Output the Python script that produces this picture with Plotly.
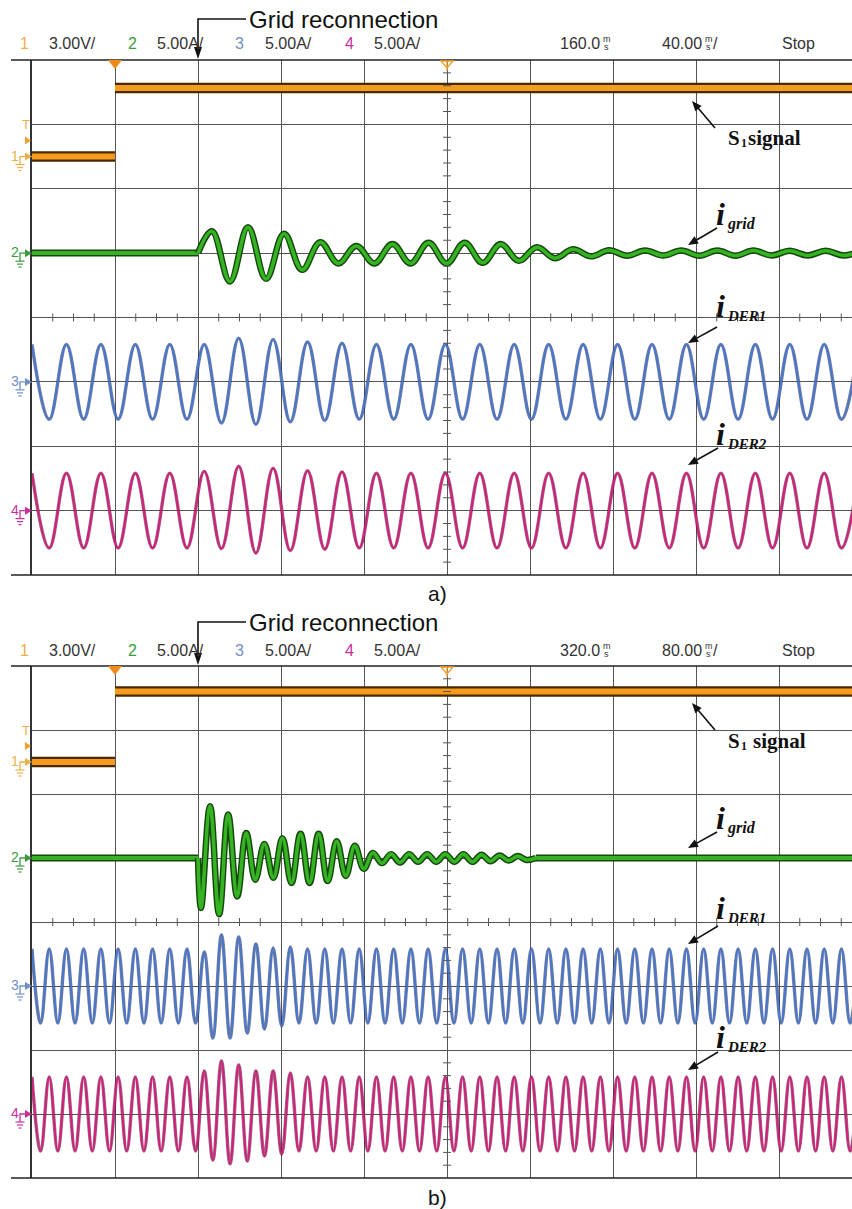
import math
import plotly.graph_objects as go

W, H = 852, 1209

# ---------------- channel settings ----------------
S1_V_PER_DIV = 3.0          # channel 1 (S1 gate signal), V/div
I_A_PER_DIV = 5.0           # channels 2-4 (currents), A/div
OFFSET_S1 = 2.5             # ground marker positions, divisions from centre
OFFSET_GRID = 1.0
OFFSET_DER1 = -1.0
OFFSET_DER2 = -3.0

# ---------------- capture a) : 40 ms/div ----------------
A_MS_PER_DIV = 40.0
A_S1_STEP_MS = 40.0
A_RECONNECT_MS = 80.0
A_S1_LEVELS_V = [0.0, 3.2]                 # before / after the step
A_GRID_FIRST_MS = 86.7                      # first extreme of i_grid
A_GRID_HALF_MS = 8.7                        # half period of i_grid
A_GRID_EXTREMES_A = [1.7, -2.2, 2.0, -2.0, 1.5, -1.3, 0.85, -0.8, 0.55, -0.8,
                     0.7, -0.8, 0.8, -0.8, 0.8, -0.75, 0.7, -0.6, 0.45, -0.4,
                     0.3, -0.25, 0.22, -0.2, 0.2, -0.18, 0.2, -0.2, 0.2,
                     -0.2, 0.2, -0.18, 0.18, -0.18, 0.18, -0.18, 0.18]
A_DER_HALF_MS = 8.3                         # half period of the DER currents
A_DER_BASE_A = 2.9                          # steady peak value
A_DER_DIST_START = 10                       # first half cycle after reconnection
A_DER1_DIST_A = [2.9, -3.2, 3.4, -3.3, 3.3, -3.1, 3.1, -3.0, 3.0]
A_DER2_DIST_A = [3.05, -2.95, 3.45, -3.3, 3.3, -3.1, 3.1, -3.0, 3.0]

# ---------------- capture b) : 80 ms/div ----------------
B_MS_PER_DIV = 80.0
B_S1_STEP_MS = 80.0
B_RECONNECT_MS = 160.0
B_S1_LEVELS_V = [0.0, 3.3]
B_GRID_FIRST_MS = 162.9
B_GRID_HALF_MS = 8.72
B_GRID_EXTREMES_A = [-3.9, 4.05, -4.4, 3.4, -3.0, 1.95, -1.7, 1.1, -1.55, 1.55,
                     -1.95, 1.9, -1.95, 1.9, -1.8, 1.3, -1.4, 0.95, -0.85, 0.4,
                     -0.4, 0.3, -0.35, 0.3, -0.3, 0.3, -0.3, 0.3, -0.3, 0.3,
                     -0.3, 0.25, -0.25, 0.2, -0.2, 0.15, -0.15]
B_DER_HALF_MS = 8.3
B_DER_BASE_A = 2.9
B_DER_DIST_START = 20
B_DER1_DIST_A = [2.66, -4.06, 3.98, -4.06, 3.83, -3.67, 3.28, -3.36, 2.97, -3.13, 3.05]
B_DER2_DIST_A = [3.36, -3.6, 4.14, -3.9, 3.83, -3.67, 3.36, -3.28, 3.36, -3.13, 3.2]

# header read-outs
CH_LABELS = ["1", "2", "3", "4"]
CH_SCALES_TXT = ["3.00V/", "5.00A/", "5.00A/", "5.00A/"]
A_DELAY_TXT, A_TIMEBASE_TXT = "160.0", "40.00"
B_DELAY_TXT, B_TIMEBASE_TXT = "320.0", "80.00"

# ---------------- screen geometry (pixels) ----------------
SCREEN_LEFT = 32
SCREEN_RIGHT = 852
FRAME_LEFT = 11
DIV_PX = 83.0

COL_S1, COL_S1_DARK = "#f59c1e", "#4a2800"
COL_GRID, COL_GRID_DARK = "#35b322", "#14480c"
COL_DER1, COL_DER1_DARK = "#4a76cc", "#1c2c5c"
COL_DER2, COL_DER2_DARK = "#d2207c", "#5a0832"
CH_TXT_COLORS = ["#e8b24a", "#3c9c3c", "#7090c8", "#c8309c"]
GRID_LINE = "#555555"
INK = "#111111"


def xp(x):
    return x / W


def yp(y):
    return 1 - y / H


panels = [
    dict(top=60, bottom=575, ms=A_MS_PER_DIV, step=A_S1_STEP_MS, rec=A_RECONNECT_MS,
         s1=A_S1_LEVELS_V, g_first=A_GRID_FIRST_MS, g_half=A_GRID_HALF_MS,
         g_ext=A_GRID_EXTREMES_A, d_half=A_DER_HALF_MS, d_base=A_DER_BASE_A,
         d_start=A_DER_DIST_START, d1=A_DER1_DIST_A, d2=A_DER2_DIST_A,
         delay=A_DELAY_TXT, tb=A_TIMEBASE_TXT, hdr=43, note=19, s1gap=0,
         lbl=dict(s1=(726, 138), grid=(720, 214), der1=(720, 306), der2=(720, 434)),
         tips=dict(s1=((692, 101), (715, 128)), grid=((688, 245), (717, 228)),
                   der1=((688, 343), (717, 327)), der2=((688, 465), (718, 448)))),
    dict(top=666, bottom=1178, ms=B_MS_PER_DIV, step=B_S1_STEP_MS, rec=B_RECONNECT_MS,
         s1=B_S1_LEVELS_V, g_first=B_GRID_FIRST_MS, g_half=B_GRID_HALF_MS,
         g_ext=B_GRID_EXTREMES_A, d_half=B_DER_HALF_MS, d_base=B_DER_BASE_A,
         d_start=B_DER_DIST_START, d1=B_DER1_DIST_A, d2=B_DER2_DIST_A,
         delay=B_DELAY_TXT, tb=B_TIMEBASE_TXT, hdr=650, note=622, s1gap=5,
         lbl=dict(s1=(726, 741), grid=(720, 818), der1=(720, 908), der2=(720, 1037)),
         tips=dict(s1=((692, 703), (715, 730)), grid=((688, 848), (717, 832)),
                   der1=((688, 944), (718, 926)), der2=((688, 1070), (718, 1052)))),
]

fig = go.Figure()
shapes = []
annos = []


def text(x, y, s, size, color=INK, family="Liberation Sans", xanchor="left"):
    annos.append(dict(x=xp(x), y=yp(y), xref="paper", yref="paper", text=s,
                      showarrow=False, xanchor=xanchor, yanchor="middle",
                      font=dict(family=family, size=size, color=color)))


def band(xs, ys, color, dark, w_core, w_dark, xa, ya, shape, dark_op=1.0):
    fig.add_trace(go.Scatter(x=xs, y=ys, mode="lines", xaxis=xa, yaxis=ya,
                             line=dict(color=dark, width=w_dark, shape=shape, smoothing=1.1),
                             opacity=dark_op, hoverinfo="skip", showlegend=False))
    fig.add_trace(go.Scatter(x=xs, y=ys, mode="lines", xaxis=xa, yaxis=ya,
                             line=dict(color=color, width=w_core, shape=shape, smoothing=1.1),
                             hoverinfo="skip", showlegend=False))


def arrow(tip, tail, color=INK):
    (tx, ty), (sx, sy) = tip, tail
    dx, dy = tx - sx, ty - sy
    ln = math.hypot(dx, dy)
    ux, uy = dx / ln, dy / ln
    hl, hw = 10.0, 4.2
    bx, by = tx - ux * hl, ty - uy * hl
    shapes.append(dict(type="line", xref="paper", yref="paper", x0=xp(sx), y0=yp(sy),
                       x1=xp(bx + ux * 2), y1=yp(by + uy * 2), line=dict(color=color, width=1.6)))
    shapes.append(dict(type="path", xref="paper", yref="paper",
                       path=f"M {xp(tx)},{yp(ty)} L {xp(bx - uy * hw)},{yp(by + ux * hw)} "
                            f"L {xp(bx + uy * hw)},{yp(by - ux * hw)} Z",
                       fillcolor=color, line=dict(width=0)))


for i, p in enumerate(panels):
    xa, ya = ("x", "y") if i == 0 else ("x2", "y2")
    x_end = (SCREEN_RIGHT - SCREEN_LEFT) / DIV_PX * p["ms"]
    div_px = (p["bottom"] - p["top"]) / 8.0

    def tpx(t, p=p):
        return SCREEN_LEFT + t / p["ms"] * DIV_PX

    def dpx(d, p=p, div_px=div_px):
        return p["top"] + (4 - d) * div_px

    # ---- axes ----
    ax = dict(domain=[SCREEN_LEFT / W, 1], range=[0, x_end], dtick=p["ms"], tick0=0,
              showgrid=True, gridcolor=GRID_LINE, gridwidth=1, zeroline=False,
              showticklabels=False, ticks="", showline=False, fixedrange=True)
    ay = dict(domain=[yp(p["bottom"]), yp(p["top"])], range=[-4, 4], dtick=1, tick0=0,
              showgrid=True, gridcolor=GRID_LINE, gridwidth=1, zeroline=False,
              showticklabels=False, ticks="", showline=True, linecolor="#333333",
              linewidth=1.5, fixedrange=True)
    if i == 0:
        fig.update_layout(xaxis=ax, yaxis=dict(ay, anchor="x"))
    else:
        fig.update_layout(xaxis2=dict(ax, anchor="y2"), yaxis2=dict(ay, anchor="x2"))

    # ---- S1 gate signal (no vertical edge shown) ----
    lo = OFFSET_S1 + p["s1"][0] / S1_V_PER_DIV
    hi = OFFSET_S1 + p["s1"][1] / S1_V_PER_DIV
    band([0, p["step"], None, p["step"], x_end], [lo, lo, None, hi, hi],
         COL_S1, COL_S1_DARK, 6, 10.5, xa, ya, "linear")

    # ---- i_grid: flat before reconnection, ringing, flat after ----
    g_t = [p["rec"]] + [p["g_first"] + k * p["g_half"] for k in range(len(p["g_ext"]))]
    g_v = [0.0] + list(p["g_ext"])
    tail_t = g_t[-1] + p["g_half"]
    if tail_t < x_end:
        g_t.append(tail_t)
        g_v.append(0.0)
    g_y = [OFFSET_GRID + v / I_A_PER_DIV for v in g_v]
    band([0, p["rec"]], [OFFSET_GRID, OFFSET_GRID], COL_GRID, COL_GRID_DARK, 4, 7, xa, ya, "linear")
    if tail_t < x_end:
        band([tail_t, x_end], [OFFSET_GRID, OFFSET_GRID], COL_GRID, COL_GRID_DARK, 4, 7, xa, ya, "linear")
    band(g_t, g_y, COL_GRID, COL_GRID_DARK, 3.6, 6.5, xa, ya, "spline")

    # ---- DER currents ----
    n = int(x_end / p["d_half"]) + 2
    for dist, off, col, dark in ((p["d1"], OFFSET_DER1, COL_DER1, COL_DER1_DARK),
                                 (p["d2"], OFFSET_DER2, COL_DER2, COL_DER2_DARK)):
        ts, vs = [], []
        for k in range(n):
            if p["d_start"] <= k < p["d_start"] + len(dist):
                v = dist[k - p["d_start"]]
            else:
                v = p["d_base"] if k % 2 == 0 else -p["d_base"]
            ts.append(k * p["d_half"])
            vs.append(off + v / I_A_PER_DIV)
        band(ts, vs, col, dark, 2.0, 3.4, xa, ya, "spline", dark_op=0.6)

    # ---- minor ticks on the centre cross ----
    t_c = 5 * p["ms"]
    hx = 4.0 / DIV_PX * p["ms"]
    hy = 4.0 / div_px
    k = 1
    while k * p["ms"] / 4 < x_end:
        t = k * p["ms"] / 4
        if k % 4:
            shapes.append(dict(type="line", xref=xa, yref=ya, x0=t, x1=t, y0=-hy, y1=hy,
                               line=dict(color=GRID_LINE, width=1)))
        k += 1
    for k in range(-19, 20):
        if k % 5 == 0:
            continue
        d = k * 0.2
        shapes.append(dict(type="line", xref=xa, yref=ya, x0=t_c - hx, x1=t_c + hx, y0=d, y1=d,
                           line=dict(color=GRID_LINE, width=1)))

    # ---- frame rules (extend left past the graticule) ----
    for yy in (p["top"], p["bottom"]):
        shapes.append(dict(type="line", xref="paper", yref="paper", x0=xp(FRAME_LEFT), x1=1,
                           y0=yp(yy), y1=yp(yy), line=dict(color="#222222", width=1.6)))

    # ---- trigger markers on top rule ----
    xs = tpx(p["step"])
    top = p["top"]
    shapes.append(dict(type="path", xref="paper", yref="paper",
                       path=f"M {xp(xs-7)},{yp(top)} L {xp(xs+7)},{yp(top)} L {xp(xs)},{yp(top+9)} Z",
                       fillcolor="#f08a1a", line=dict(width=0)))
    xc = tpx(t_c)
    shapes.append(dict(type="path", xref="paper", yref="paper",
                       path=f"M {xp(xc-6)},{yp(top+1)} L {xp(xc+6)},{yp(top+1)} L {xp(xc)},{yp(top+8)} Z "
                            f"M {xp(xc)},{yp(top+1)} L {xp(xc)},{yp(top+11)}",
                       line=dict(color="#f0a030", width=1.4)))

    # ---- channel ground markers at the left ----
    for lab, off, col in (("1", lo, CH_TXT_COLORS[0]), ("2", OFFSET_GRID, CH_TXT_COLORS[1]),
                          ("3", OFFSET_DER1, CH_TXT_COLORS[2]), ("4", OFFSET_DER2, CH_TXT_COLORS[3])):
        y0 = dpx(off)
        text(15, y0 - 1, lab, 14, col, xanchor="center")
        shapes.append(dict(type="path", xref="paper", yref="paper",
                           path=f"M {xp(20)},{yp(y0+8)} L {xp(20)},{yp(y0)} L {xp(25)},{yp(y0)}",
                           line=dict(color=col, width=1.3)))
        shapes.append(dict(type="path", xref="paper", yref="paper",
                           path=f"M {xp(25)},{yp(y0-4)} L {xp(32)},{yp(y0)} L {xp(25)},{yp(y0+4)} Z",
                           fillcolor=col, line=dict(width=0)))
        for dy, hw in ((8, 4.5), (11, 3), (14, 1.5)):
            shapes.append(dict(type="line", xref="paper", yref="paper",
                               x0=xp(20 - hw), x1=xp(20 + hw), y0=yp(y0 + dy), y1=yp(y0 + dy),
                               line=dict(color=col, width=1.2)))
    # trigger level marker
    y_t = dpx(lo) - 16
    text(26, y_t - 16, "T", 13, CH_TXT_COLORS[0], xanchor="center")
    shapes.append(dict(type="path", xref="paper", yref="paper",
                       path=f"M {xp(25)},{yp(y_t-4)} L {xp(31)},{yp(y_t)} L {xp(25)},{yp(y_t+4)} Z",
                       fillcolor="#f0a030", line=dict(width=0)))

    # ---- header read-out ----
    hdr_x = [(18, 47), (126, 155), (233, 263), (343, 372)]
    for (xn, xv), lab, val, col in zip(hdr_x, CH_LABELS, CH_SCALES_TXT, CH_TXT_COLORS):
        text(xn, p["hdr"], lab, 16, col)
        text(xv, p["hdr"], val, 16, "#333333")
    for txt, xx in ((p["delay"], 558), (p["tb"], 660), ("Stop", 780)):
        text(xx, p["hdr"], txt, 16, "#333333")
    for xx in (601, 703):
        text(xx, p["hdr"] - 4, "m", 9, "#333333")
        text(xx + 1, p["hdr"] + 4, "s", 9, "#333333")
    text(711, p["hdr"], "/", 16, "#333333")

    # ---- "Grid reconnection" call-out ----
    xr = tpx(p["rec"])
    yn = p["note"]
    text(247, yn, "Grid reconnection", 24)
    shapes.append(dict(type="path", xref="paper", yref="paper",
                       path=f"M {xp(246)},{yp(yn)} L {xp(xr)},{yp(yn)} L {xp(xr)},{yp(top-10)}",
                       line=dict(color=INK, width=1.6)))
    shapes.append(dict(type="path", xref="paper", yref="paper",
                       path=f"M {xp(xr-4)},{yp(top-13)} L {xp(xr+4)},{yp(top-13)} L {xp(xr)},{yp(top-1)} Z",
                       fillcolor=INK, line=dict(width=0)))

    # ---- trace labels ----
    L = p["lbl"]
    sx, sy = L["s1"]
    text(sx, sy, "<b>S</b>", 21, family="Liberation Serif")
    text(sx + 13, sy + 5, "<b>1</b>", 12, family="Liberation Serif")
    text(sx + 20 + p["s1gap"], sy, "<b>signal</b>", 21, family="Liberation Serif")
    for key, sub, sz in (("grid", "grid", 16), ("der1", "DER1", 15), ("der2", "DER2", 15)):
        cx, cy = L[key]
        text(cx, cy, "<b><i>i</i></b>", 32, family="Liberation Serif", xanchor="center")
        text(cx + 5, cy + 10, f"<b><i>{sub}</i></b>", sz, family="Liberation Serif")
    for key, (tip, tail) in p["tips"].items():
        arrow(tip, tail)

# panel captions
text(437, 593, "a)", 21, xanchor="center")
text(437, 1197, "b)", 21, xanchor="center")

fig.update_layout(width=W, height=H, margin=dict(l=0, r=0, t=0, b=0),
                  paper_bgcolor="white", plot_bgcolor="white", showlegend=False,
                  shapes=shapes, annotations=annos)
fig.write_html("out.html")
